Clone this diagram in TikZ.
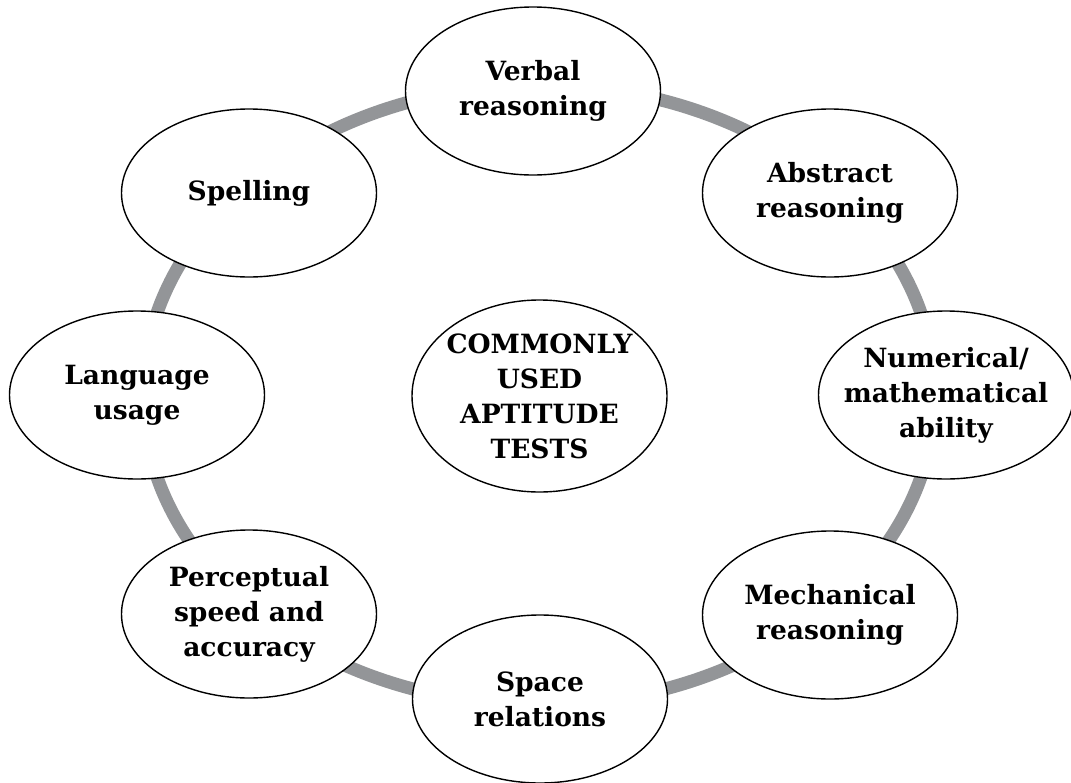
\documentclass[tikz,border=0pt]{standalone}
\usepackage{fontspec}
\newfontfamily\bubblefont{DejaVu Serif}
\usetikzlibrary{shapes.geometric}
\definecolor{ringgray}{RGB}{147,149,152}
\begin{document}
\begin{tikzpicture}[x=1pt,y=-1pt,
  bubble/.style={ellipse, draw=black, line width=1.4pt, fill=white,
    minimum width=255pt, minimum height=168pt, inner sep=0pt},
  txt/.style={align=center, font=\bubblefont\bfseries\fontsize{26.5}{35}\selectfont, inner sep=0pt}]
\useasboundingbox (0,0) rectangle (1071,782);
\fill[white] (0,0) rectangle (1071,782);
% gray ring
\node[ellipse, draw=ringgray, line width=13pt, minimum width=792pt, minimum height=620pt, inner sep=0pt] (ring) at (539,395) {};
% items
\node[bubble, label={[txt]center:Verbal\\reasoning}] (verbal) at (533,91) {};
\node[bubble, label={[txt]center:Abstract\\reasoning}] (abstract) at (830,193) {};
\node[bubble, label={[txt]center:Numerical/\\mathematical\\ability}] (numerical) at (946,395) {};
\node[bubble, label={[txt]center:Mechanical\\reasoning}] (mechanical) at (830,615) {};
\node[bubble, label={[txt]center:Space\\relations}] (space) at (540,699) {};
\node[bubble, label={[txt]center:Perceptual\\speed and\\accuracy}] (perceptual) at (249,614) {};
\node[bubble, label={[txt]center:Language\\usage}] (language) at (137,395) {};
\node[bubble, label={[txt]center:Spelling}] (spelling) at (249,193) {};
\node[bubble, minimum height=192pt, label={[txt]center:COMMONLY\\USED\\APTITUDE\\TESTS}] (centre) at (539.5,396) {};
\end{tikzpicture}
\end{document}
